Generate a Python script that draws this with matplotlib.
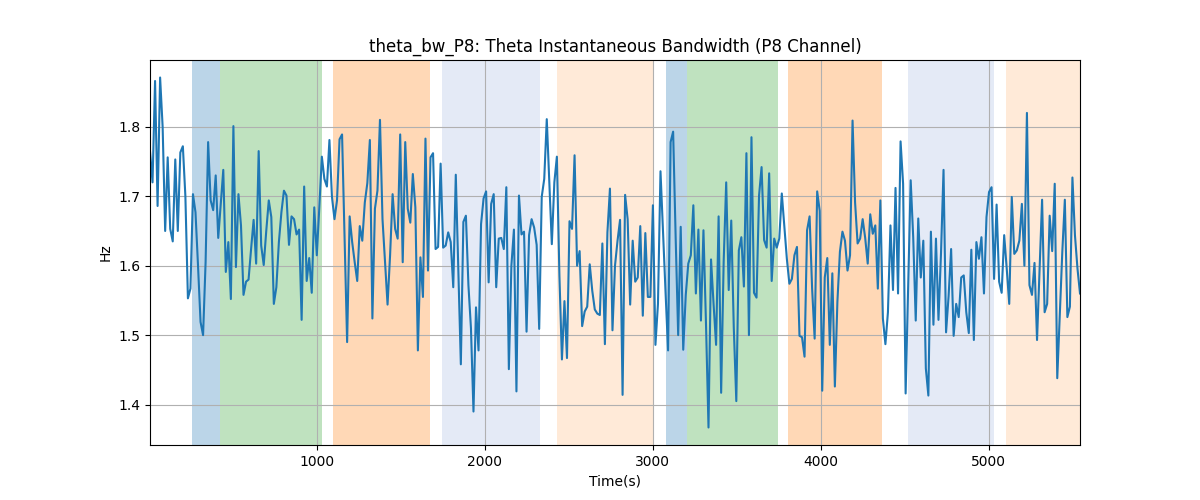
import numpy as np
import matplotlib
matplotlib.use("Agg")
import matplotlib.pyplot as plt

t_start, t_end = 5, 5545

values = [
    # segment 1
    1.765, 1.72, 1.866, 1.686, 1.871, 1.80, 1.65, 1.756, 1.653, 1.635, 1.753, 1.65, 1.763,
    1.772, 1.70, 1.553, 1.567, 1.703, 1.677, 1.60, 1.519, 1.50, 1.605, 1.778, 1.694,
    1.68, 1.73, 1.64, 1.69, 1.738, 1.591, 1.634, 1.552, 1.801, 1.598, 1.703, 1.658,
    1.558, 1.577, 1.58, 1.624, 1.666, 1.603, 1.765, 1.629, 1.601, 1.65, 1.694,
    # segment 2
    1.670, 1.545, 1.569, 1.634, 1.677, 1.708, 1.701, 1.63, 1.671, 1.667, 1.645, 1.652,
    1.522, 1.714, 1.578, 1.611, 1.561, 1.684, 1.615, 1.684, 1.757, 1.725, 1.714, 1.781,
    1.699, 1.667, 1.694, 1.782, 1.789, 1.641, 1.49, 1.671, 1.634, 1.605, 1.578, 1.657,
    1.636, 1.691, 1.719, 1.781, 1.524, 1.682, 1.708, 1.81, 1.667, 1.605, 1.544,
    # segment 3
    1.615, 1.703, 1.653, 1.639, 1.789, 1.605, 1.778, 1.682, 1.662, 1.732, 1.684, 1.478,
    1.612, 1.555, 1.783, 1.593, 1.756, 1.762, 1.624, 1.627, 1.747, 1.626, 1.629, 1.648,
    1.634, 1.569, 1.731, 1.595, 1.458, 1.663, 1.672, 1.572, 1.51, 1.39, 1.54, 1.478,
    1.66, 1.697, 1.707, 1.576, 1.689, 1.703, 1.569, 1.639, 1.64, 1.624, 1.713, 1.451,
    # segment 4
    1.60, 1.652, 1.419, 1.701, 1.645, 1.649, 1.505, 1.644, 1.667, 1.655, 1.63, 1.509,
    1.699, 1.725, 1.811, 1.72, 1.631, 1.72, 1.757, 1.586, 1.465, 1.549, 1.467, 1.664,
    1.653, 1.759, 1.60, 1.621, 1.513, 1.534, 1.541, 1.602, 1.564, 1.537, 1.531, 1.529,
    1.632, 1.487, 1.648, 1.711, 1.507, 1.60, 1.636, 1.666, 1.414, 1.702, 1.667,
    # segment 5
    1.544, 1.636, 1.577, 1.583, 1.657, 1.528, 1.647, 1.555, 1.555, 1.687, 1.486, 1.545,
    1.736, 1.648, 1.562, 1.478, 1.778, 1.793, 1.641, 1.50, 1.656, 1.479, 1.558, 1.603,
    1.615, 1.687, 1.56, 1.652, 1.521, 1.651, 1.517, 1.367, 1.609, 1.545, 1.486, 1.671,
    1.417, 1.606, 1.72, 1.565, 1.665, 1.511, 1.405, 1.622, 1.641, 1.57, 1.762, 1.50,
    # segment 6
    1.785, 1.561, 1.554, 1.701, 1.742, 1.637, 1.626, 1.733, 1.578, 1.639, 1.626, 1.639,
    1.704, 1.658, 1.61, 1.574, 1.581, 1.615, 1.627, 1.499, 1.497, 1.469, 1.651, 1.671,
    1.567, 1.495, 1.707, 1.679, 1.42, 1.583, 1.611, 1.486, 1.589, 1.426, 1.548, 1.62,
    1.649, 1.636, 1.593, 1.615, 1.809, 1.691, 1.632, 1.639, 1.667, 1.64, 1.603, 1.674,
    # segment 7
    1.646, 1.658, 1.567, 1.694, 1.524, 1.487, 1.533, 1.658, 1.565, 1.712, 1.56, 1.779,
    1.718, 1.416, 1.572, 1.723, 1.641, 1.521, 1.668, 1.583, 1.636, 1.452, 1.413, 1.649,
    1.515, 1.639, 1.522, 1.618, 1.738, 1.504, 1.556, 1.624, 1.499, 1.545, 1.526, 1.583,
    1.586, 1.533, 1.503, 1.623, 1.493, 1.634, 1.61, 1.641, 1.56, 1.67, 1.706,
    # segment 8
    1.713, 1.581, 1.688, 1.577, 1.561, 1.644, 1.596, 1.545, 1.699, 1.617, 1.622, 1.636,
    1.689, 1.60, 1.82, 1.572, 1.558, 1.604, 1.493, 1.596, 1.695, 1.533, 1.545, 1.672,
    1.621, 1.718, 1.438, 1.53, 1.62, 1.695, 1.526, 1.541, 1.727, 1.644, 1.596, 1.56,
]

span_starts = [255, 422, 1096, 1747, 2431, 3080, 3202, 3808, 4523, 5107]
span_ends = [422, 1028, 1674, 2329, 3005, 3202, 3746, 4366, 5032, 5545]
span_colors = ["tab:blue", "tab:green", "tab:orange", "#4a78c8", "tab:orange",
               "tab:blue", "tab:green", "tab:orange", "#4a78c8", "tab:orange"]
span_alphas = [0.3, 0.3, 0.3, 0.15, 0.16, 0.3, 0.3, 0.3, 0.15, 0.16]

times = np.linspace(t_start, t_end, len(values))

fig, ax = plt.subplots(figsize=(12, 5), dpi=100)
for s, e, c, a in zip(span_starts, span_ends, span_colors, span_alphas):
    ax.axvspan(s, e, color=c, alpha=a, linewidth=0)
ax.plot(times, values, color="tab:blue", linewidth=1.5)
ax.set_xlim(times[0], times[-1])
ax.grid(True)
ax.set_title("theta_bw_P8: Theta Instantaneous Bandwidth (P8 Channel)")
ax.set_xlabel("Time(s)")
ax.set_ylabel("Hz")
fig.savefig("out.png")
